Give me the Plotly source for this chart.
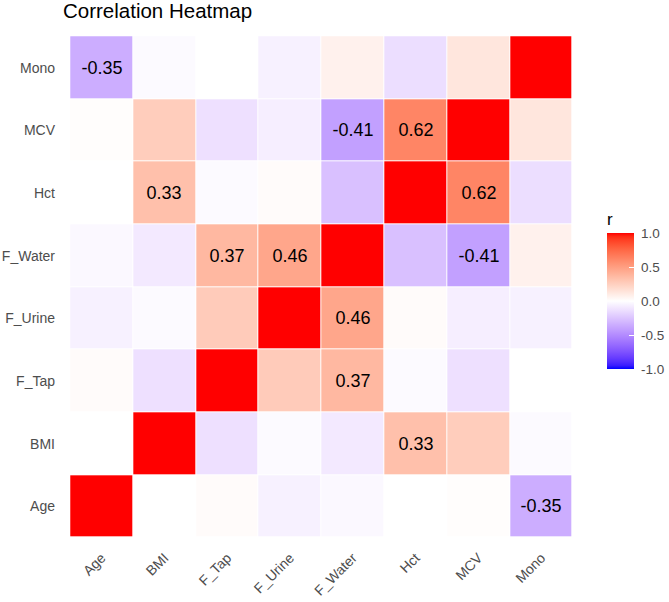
import numpy as np
import plotly.graph_objects as go

variables = ["Age", "BMI", "F_Tap", "F_Urine", "F_Water", "Hct", "MCV", "Mono"]

# correlation matrix rows (same order as variables)
r_age     = [1.00, 0.00, 0.02, -0.06, -0.03, 0.00, 0.01, -0.35]
r_bmi     = [0.00, 1.00, -0.13, -0.02, -0.09, 0.33, 0.26, -0.02]
r_ftap    = [0.02, -0.13, 1.00, 0.27, 0.37, -0.02, -0.13, 0.00]
r_furine  = [-0.06, -0.02, 0.27, 1.00, 0.46, 0.02, -0.07, -0.06]
r_fwater  = [-0.03, -0.09, 0.37, 0.46, 1.00, -0.27, -0.41, 0.07]
r_hct     = [0.00, 0.33, -0.02, 0.02, -0.27, 1.00, 0.62, -0.14]
r_mcv     = [0.01, 0.26, -0.13, -0.07, -0.41, 0.62, 1.00, 0.13]
r_mono    = [-0.35, -0.02, 0.00, -0.06, 0.07, -0.14, 0.13, 1.00]

matrix = [r_age, r_bmi, r_ftap, r_furine, r_fwater, r_hct, r_mcv, r_mono]
label_threshold = 0.3

# ---- Lab interpolated diverging colour scale (blue - white - red) ----
def _lin(c):
    c = c / 255.0
    return c / 12.92 if c <= 0.04045 else ((c + 0.055) / 1.055) ** 2.4

def _unlin(c):
    c = 12.92 * c if c <= 0.0031308 else 1.055 * c ** (1 / 2.4) - 0.055
    return max(0, min(255, round(c * 255)))

WHITE = (0.95047, 1.0, 1.08883)

def rgb2lab(rgb):
    r, g, b = [_lin(v) for v in rgb]
    x = 0.4124564 * r + 0.3575761 * g + 0.1804375 * b
    y = 0.2126729 * r + 0.7151522 * g + 0.0721750 * b
    z = 0.0193339 * r + 0.1191920 * g + 0.9503041 * b
    def f(t):
        return t ** (1 / 3) if t > 216 / 24389 else (24389 / 27 * t + 16) / 116
    fx, fy, fz = f(x / WHITE[0]), f(y / WHITE[1]), f(z / WHITE[2])
    return (116 * fy - 16, 500 * (fx - fy), 200 * (fy - fz))

def lab2rgb(lab):
    L, a, b = lab
    fy = (L + 16) / 116
    fx = fy + a / 500
    fz = fy - b / 200
    def finv(t):
        return t ** 3 if t ** 3 > 216 / 24389 else (116 * t - 16) / (24389 / 27)
    x, y, z = finv(fx) * WHITE[0], finv(fy) * WHITE[1], finv(fz) * WHITE[2]
    r = 3.2404542 * x - 1.5371385 * y - 0.4985314 * z
    g = -0.9692660 * x + 1.8760108 * y + 0.0415560 * z
    bb = 0.0556434 * x - 0.2040259 * y + 1.0572252 * z
    return (_unlin(r), _unlin(g), _unlin(bb))

low, mid, high = rgb2lab((0, 0, 255)), rgb2lab((255, 255, 255)), rgb2lab((255, 0, 0))
colorscale = []
for t in np.linspace(0, 1, 41):
    if t <= 0.5:
        f = t / 0.5
        lab = tuple(low[i] + (mid[i] - low[i]) * f for i in range(3))
    else:
        f = (t - 0.5) / 0.5
        lab = tuple(mid[i] + (high[i] - mid[i]) * f for i in range(3))
    rgb = lab2rgb(lab)
    colorscale.append([float(t), "rgb(%d,%d,%d)" % rgb])

z = np.array(matrix)
text = [["%.2f" % v if (abs(v) > label_threshold and v < 0.999) else "" for v in row] for row in matrix]

font = "Liberation Sans, Arial, sans-serif"

# plot-area geometry (pixels) used to place the colour bar in paper coordinates
W, H = 669, 602
ML, MR, MT, MB = 64, 90, 30, 58
PW, PH = W - ML - MR, H - MT - MB

fig = go.Figure(go.Heatmap(
    z=z, x=variables, y=variables,
    zmin=-1, zmax=1, colorscale=colorscale,
    xgap=1, ygap=1,
    text=text, texttemplate="%{text}",
    textfont=dict(family=font, size=18, color="black"),
    hoverinfo="skip",
    colorbar=dict(
        title=dict(text="r", side="top", font=dict(family=font, size=17, color="black")),
        tickvals=[-1, -0.5, 0, 0.5, 1],
        ticktext=[" -1.0", " -0.5", " 0.0", " 0.5", " 1.0"],
        tickfont=dict(family=font, size=13.5, color="#4D4D4D"),
        ticks="inside", ticklen=5, tickcolor="white",
        thickness=27, thicknessmode="pixels",
        len=160, lenmode="pixels",
        x=(607 - ML) / PW, xanchor="left",
        y=(H - MB - 369) / PH, yanchor="bottom",
        xpad=0, ypad=0,
        outlinewidth=0,
    ),
))

fig.update_layout(
    width=W, height=H,
    margin=dict(l=ML, r=MR, t=MT, b=MB, autoexpand=False),
    paper_bgcolor="white", plot_bgcolor="white",
    title=dict(text="Correlation Heatmap", x=63 / W, xref="container", xanchor="left",
               y=1 - 11 / H, yref="container", yanchor="middle",
               font=dict(family=font, size=20.5, color="black")),
    font=dict(family=font),
)
fig.update_xaxes(range=[-0.6, 7.6], showgrid=False, zeroline=False, tickangle=-45,
                 tickfont=dict(family=font, size=14, color="#4D4D4D"), ticks="", ticklabelstandoff=2)
fig.update_yaxes(range=[-0.6, 7.6], showgrid=False, zeroline=False,
                 tickfont=dict(family=font, size=14, color="#4D4D4D"), ticks="", ticklabelstandoff=8)

fig.write_html("out.html")
